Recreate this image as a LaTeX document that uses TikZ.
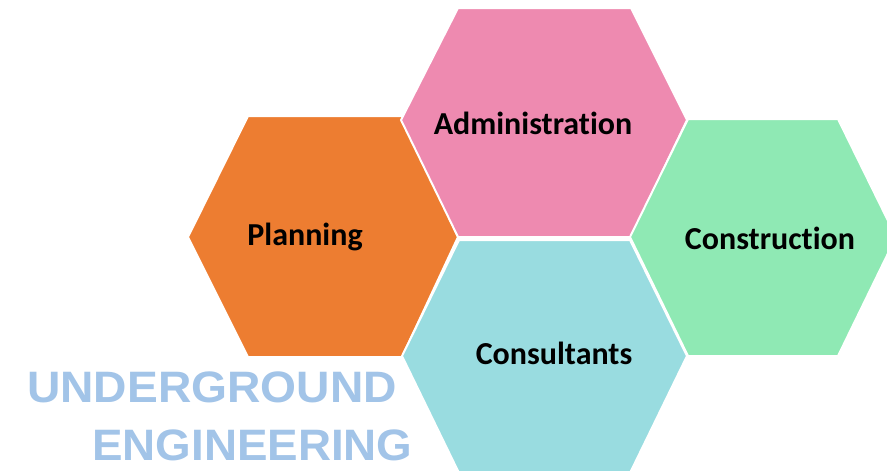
\documentclass[tikz,border=0pt]{standalone}
\usepackage{fontspec}
\setmainfont[Ligatures=NoCommon]{Carlito}
\newfontfamily\arialfont{Liberation Sans}
\definecolor{hexorange}{HTML}{ED7D31}
\definecolor{hexpink}{HTML}{EE8AB0}
\definecolor{hexgreen}{HTML}{8FE9B4}
\definecolor{hexcyan}{HTML}{99DCE0}
\definecolor{titleblue}{HTML}{A2C4E8}
\begin{document}
\begin{tikzpicture}[x=1pt,y=-1pt,
  hexbox/.style={draw=white,line width=2pt,line join=miter},
  hexlabel/.style={font=\fontsize{32}{36}\selectfont\bfseries,text=black,inner sep=0pt},
  titletext/.style={font=\arialfont\fontsize{44}{50}\selectfont\bfseries,text=titleblue,inner sep=0pt,anchor=base west}]
\useasboundingbox (0,0) rectangle (887,471);
\clip (0,0) rectangle (887,471);
\fill[white] (0,0) rectangle (887,471);
% hexagons
\filldraw[hexbox,fill=hexorange] (188,237) -- (248,116) -- (402,116) -- (458,237) -- (402,357) -- (248,357) -- cycle;
\filldraw[hexbox,fill=hexpink] (401,120) -- (458,8) -- (631,8) -- (687,120) -- (631,237) -- (458,237) -- cycle;
\filldraw[hexbox,fill=hexgreen] (630,237) -- (688,119) -- (838,119) -- (896,237) -- (838,356) -- (688,356) -- cycle;
\filldraw[hexbox,fill=hexcyan] (402,356) -- (459,240) -- (630,240) -- (687,356) -- (630,473) -- (459,473) -- cycle;
% labels
\node[hexlabel] (plan) at (305,237) {Planning};
\node[hexlabel] (admin) at (533,123) {Administration};
\node[hexlabel] (constr) at (770,238) {Construction};
\node[hexlabel] (consult) at (554,353) {Consultants};
% title
\node[titletext,xscale=1.05] (t1) at (27,402) {UNDERGROUND};
\node[titletext,xscale=1.04] (t2) at (92,460) {ENGINEERING};
\end{tikzpicture}
\end{document}
